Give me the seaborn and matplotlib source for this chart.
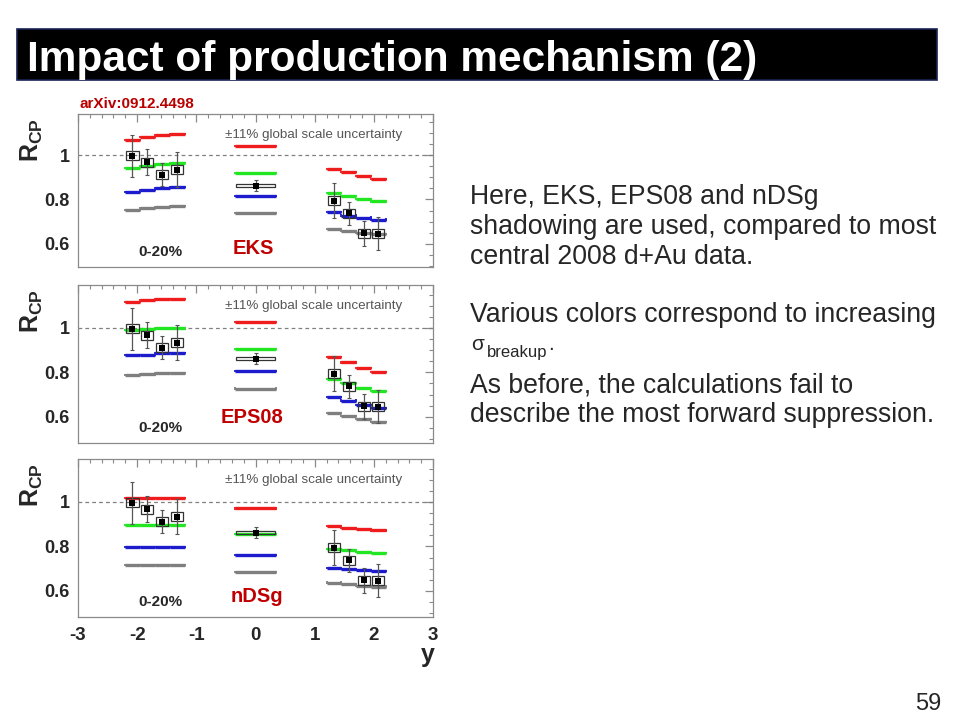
import matplotlib
matplotlib.use("Agg")
import matplotlib.pyplot as plt
import numpy as np
import pandas as pd
import seaborn as sns
from matplotlib.patches import Rectangle
from matplotlib.ticker import MultipleLocator, FuncFormatter

# ---------------- data ----------------
BIN_LO = [-2.2, -1.95, -1.7, -1.45, -0.35, 1.2, 1.45, 1.7, 1.95]
BIN_HI = [-1.95, -1.7, -1.45, -1.2, 0.35, 1.45, 1.7, 1.95, 2.2]

DATA_Y = [-2.08, -1.83, -1.58, -1.33, 0.0, 1.33, 1.58, 1.83, 2.07]
DATA_RCP = [0.997, 0.967, 0.912, 0.934, 0.862, 0.794, 0.737, 0.647, 0.645]
DATA_STAT = [0.095, 0.058, 0.052, 0.080, 0.026, 0.080, 0.053, 0.055, 0.075]
DATA_SYS = [0.020, 0.020, 0.020, 0.020, 0.008, 0.020, 0.020, 0.020, 0.020]

EKS_RED = [1.068, 1.080, 1.090, 1.095, 1.042, 0.938, 0.922, 0.907, 0.893]
EKS_GREEN = [0.940, 0.950, 0.960, 0.964, 0.920, 0.830, 0.815, 0.803, 0.791]
EKS_BLUE = [0.835, 0.842, 0.853, 0.857, 0.817, 0.742, 0.727, 0.718, 0.709]
EKS_GRAY = [0.751, 0.760, 0.767, 0.772, 0.737, 0.667, 0.659, 0.650, 0.643]

EPS08_RED = [1.118, 1.126, 1.131, 1.131, 1.026, 0.871, 0.845, 0.821, 0.803]
EPS08_GREEN = [0.991, 0.995, 0.998, 0.998, 0.905, 0.770, 0.751, 0.731, 0.715]
EPS08_BLUE = [0.878, 0.880, 0.886, 0.886, 0.806, 0.688, 0.673, 0.653, 0.638]
EPS08_GRAY = [0.788, 0.791, 0.796, 0.796, 0.727, 0.618, 0.605, 0.590, 0.575]

NDSG_RED = [1.019, 1.019, 1.019, 1.019, 0.971, 0.892, 0.884, 0.877, 0.872]
NDSG_GREEN = [0.898, 0.898, 0.898, 0.898, 0.857, 0.788, 0.784, 0.776, 0.770]
NDSG_BLUE = [0.796, 0.796, 0.797, 0.798, 0.761, 0.704, 0.698, 0.694, 0.688]
NDSG_GRAY = [0.716, 0.716, 0.717, 0.717, 0.686, 0.637, 0.631, 0.623, 0.619]

SHADOWING = ["EKS", "EPS08", "nDSg"]
X_TICKS = [-3, -2, -1, 0, 1, 2, 3]
Y_TICKS = [0.6, 0.8, 1.0]

MODEL_COLORS = {"red": "#ee1c1c", "green": "#22e622", "blue": "#1c1ccc", "gray": "#7f7f7f"}
MODELS = [
    {"red": EKS_RED, "green": EKS_GREEN, "blue": EKS_BLUE, "gray": EKS_GRAY},
    {"red": EPS08_RED, "green": EPS08_GREEN, "blue": EPS08_BLUE, "gray": EPS08_GRAY},
    {"red": NDSG_RED, "green": NDSG_GREEN, "blue": NDSG_BLUE, "gray": NDSG_GRAY},
]

# ---------------- style ----------------
sns.set_style("white")
plt.rcParams["font.family"] = ["Liberation Sans", "DejaVu Sans"]
plt.rcParams["mathtext.fontset"] = "custom"
plt.rcParams["mathtext.rm"] = "Liberation Sans"
plt.rcParams["mathtext.bf"] = "Liberation Sans:bold"
plt.rcParams["axes.unicode_minus"] = False

W, H = 960, 720
fig = plt.figure(figsize=(9.6, 7.2), dpi=100)
fig.patch.set_facecolor("white")


def fx(px):
    return px / W


def fy(py):
    return 1 - py / H


# title bar
bar = Rectangle((fx(17), fy(80)), fx(937) - fx(17), fy(29) - fy(80),
                transform=fig.transFigure, facecolor="black", edgecolor="#1a2255",
                linewidth=1.2, zorder=0)
fig.patches.append(bar)
fig.text(fx(27), fy(71), "Impact of production mechanism (2)", color="white",
         fontsize=30.5, fontweight="bold", va="baseline", ha="left")

fig.text(fx(79), fy(104), "arXiv:0912.4498", color="#b80000", fontsize=11,
         fontweight="bold", va="center", ha="left")

# panels: (top px, bottom px, pixel of y=1)
PANEL_PX = [(114, 267, 155), (285, 443, 328), (459, 617, 502)]
LABEL_PX = [(253, 248), (252, 417), (257, 597)]
L, R = 78, 433
SCALE = 222.0  # px per unit of R_CP

for i, (top, bot, y1) in enumerate(PANEL_PX):
    ax = fig.add_axes([fx(L), fy(bot), fx(R) - fx(L), fy(top) - fy(bot)])
    ax.set_xlim(-3, 3)
    ax.set_ylim(1 - (bot - y1) / SCALE, 1 + (y1 - top) / SCALE)
    ax.set_facecolor("white")

    # reference line
    ax.axhline(1.0, color="#808080", lw=0.9, ls=(0, (3, 2.5)), zorder=1)

    # model step lines
    rows = []
    for cname, vals in MODELS[i].items():
        for lo, hi, v in zip(BIN_LO, BIN_HI, vals):
            rows.append({"model": cname, "lo": lo, "hi": hi, "rcp": v})
    mdf = pd.DataFrame(rows)
    for cname, g in mdf.groupby("model", sort=False):
        col = MODEL_COLORS[cname]
        ax.hlines(g["rcp"], g["lo"], g["hi"], colors=col, lw=2.4, zorder=2)
        ends = pd.concat([g["lo"], g["hi"]])
        vals2 = pd.concat([g["rcp"], g["rcp"]])
        ax.vlines(ends, vals2 - 0.005, vals2 + 0.005, colors=col, lw=1.3, zorder=2)

    # data
    ddf = pd.DataFrame({"y": DATA_Y, "rcp": DATA_RCP, "stat": DATA_STAT,
                        "sys": DATA_SYS, "lo": BIN_LO, "hi": BIN_HI})
    for _, r in ddf.iterrows():
        hw = (r["hi"] - r["lo"]) / 2 - 0.02
        ax.add_patch(Rectangle((r["y"] - hw, r["rcp"] - r["sys"]), 2 * hw, 2 * r["sys"],
                               facecolor="none", edgecolor="#333333", lw=0.9, zorder=3))
    ax.errorbar(ddf["y"], ddf["rcp"], yerr=ddf["stat"], fmt="none", ecolor="#555555",
                elinewidth=0.9, capsize=1.5, capthick=0.8, zorder=4)
    sns.scatterplot(data=ddf, x="y", y="rcp", marker="s", color="black", s=22,
                    edgecolor="black", linewidth=0, ax=ax, zorder=5, legend=False)

    # axes styling
    for sp in ax.spines.values():
        sp.set_color("#8a8a8a")
        sp.set_linewidth(0.9)
    ax.set_xticks(X_TICKS)
    ax.set_yticks(Y_TICKS)
    ax.xaxis.set_minor_locator(MultipleLocator(0.2))
    ax.yaxis.set_minor_locator(MultipleLocator(0.05))
    ax.tick_params(which="both", direction="in", top=True, right=True, color="#8a8a8a")
    ax.tick_params(which="major", length=6, width=0.9)
    ax.tick_params(which="minor", length=3, width=0.8)
    ax.yaxis.set_major_formatter(FuncFormatter(lambda v, p: f"{v:g}"))
    ax.tick_params(axis="y", labelsize=13, pad=6)
    ax.tick_params(axis="x", labelsize=13.5, pad=7)
    for t in ax.get_yticklabels() + ax.get_xticklabels():
        t.set_fontweight("bold")
    if i < 2:
        ax.set_xticklabels([])
    ax.set_xlabel("")
    ax.set_ylabel("")

    ax.text(0.665, 0.865 if i == 0 else 0.87, "±11% global scale uncertainty",
            transform=ax.transAxes, fontsize=9.6, color="#555555", ha="center", va="center")
    ax.text(fx(160), fy(bot - 15), "0-20%", transform=fig.transFigure, fontsize=11,
            fontweight="bold", ha="center", va="center")
    lx, ly = LABEL_PX[i]
    fig.text(fx(lx), fy(ly), SHADOWING[i], color="#c00000", fontsize=14.5,
             fontweight="bold", ha="center", va="center")
    fig.text(fx(32), fy(top + 26), r"$\mathbf{R}_{\mathbf{CP}}$", rotation=90,
             fontsize=18, ha="center", va="center")

fig.text(fx(428), fy(655), "y", fontsize=18, fontweight="bold", ha="center", va="center")

# right-hand text
TXT = 19.2
fig.text(fx(470), fy(204), "Here, EKS, EPS08 and nDSg", fontsize=TXT, va="baseline")
fig.text(fx(470), fy(234), "shadowing are used, compared to most", fontsize=TXT, va="baseline")
fig.text(fx(470), fy(264), "central 2008 d+Au data.", fontsize=TXT, va="baseline")
fig.text(fx(470), fy(322), "Various colors correspond to increasing", fontsize=TXT, va="baseline")
fig.text(fx(471), fy(350), "σ", fontsize=15, va="baseline")
fig.text(fx(487), fy(357), "breakup", fontsize=12, va="baseline")
fig.text(fx(548), fy(350), ".", fontsize=15, va="baseline")
fig.text(fx(470), fy(393), "As before, the calculations fail to", fontsize=TXT, va="baseline")
fig.text(fx(470), fy(422), "describe the most forward suppression.", fontsize=TXT, va="baseline")

fig.text(fx(941), fy(710), "59", fontsize=17, ha="right", va="baseline")

fig.savefig("out.png", dpi=100)
